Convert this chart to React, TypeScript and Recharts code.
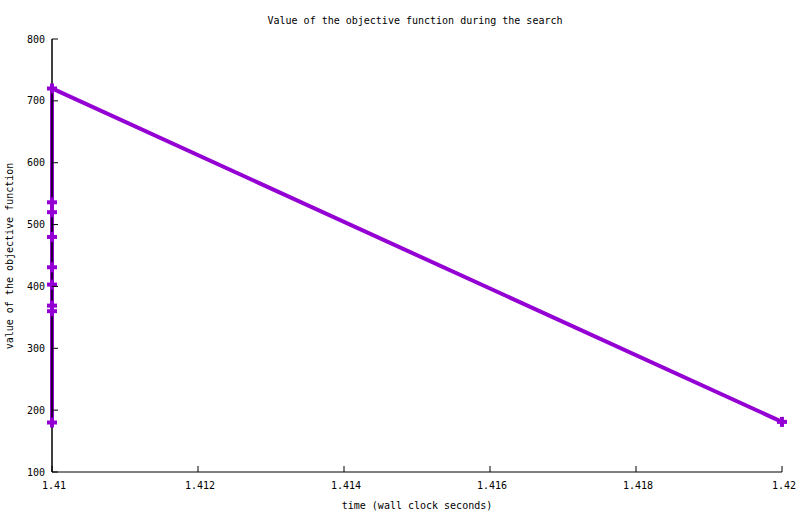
import { LineChart, Line, XAxis, YAxis, ReferenceLine } from "recharts";

// time (wall clock seconds) of each evaluation
const times = [1.41, 1.41, 1.41, 1.41, 1.41, 1.41, 1.41, 1.41, 1.41, 1.42];
// objective value at each evaluation
const objective = [180, 360, 369, 403, 431, 480, 520, 536, 720, 181];

const xTicks = [1.41, 1.412, 1.414, 1.416, 1.418, 1.42];
const yTicks = [100, 200, 300, 400, 500, 600, 700, 800];

const data = times.map((t, i) => ({ time: t, value: objective[i] }));

const FONT = "'DejaVu Sans Mono', monospace";
const PURPLE = "#9400d3";
const TICK = 6;
// plot frame edges (follow from the chart margins and axis sizes below)
const LEFT = 52;
const RIGHT = 782;
const TOP = 39;
const BOTTOM = 472;

const BottomTick = (props: any) => {
    const { x, payload } = props;
    return (
        <g>
            <line x1={x} y1={BOTTOM} x2={x} y2={BOTTOM - TICK} stroke="#000" />
            <text x={x + 2} y={BOTTOM + 17} textAnchor="middle" fontSize={10} fontFamily={FONT} fill="#000">
                {payload.value}
            </text>
        </g>
    );
};

const TopTick = (props: any) => {
    const { x } = props;
    return <line x1={x} y1={TOP} x2={x} y2={TOP + TICK} stroke="#000" />;
};

const LeftTick = (props: any) => {
    const { y, payload } = props;
    return (
        <g>
            <line x1={LEFT} y1={y} x2={LEFT + TICK} y2={y} stroke="#000" />
            <text x={45} y={y + 3.5} textAnchor="end" fontSize={10} fontFamily={FONT} fill="#000">
                {payload.value}
            </text>
        </g>
    );
};

const RightTick = (props: any) => {
    const { y } = props;
    return <line x1={RIGHT} y1={y} x2={RIGHT - TICK} y2={y} stroke="#000" />;
};

const PlusDot = (props: any) => {
    const { cx, cy, index } = props;
    if (cx == null || cy == null) return null;
    return (
        <g key={index}>
            <rect x={cx - 5} y={cy - 2} width={10} height={4} fill={PURPLE} />
            <rect x={cx - 2} y={cy - 5} width={4} height={10} fill={PURPLE} />
        </g>
    );
};

export default function App() {
    return (
        <div style={{ position: "absolute", left: 0, top: 0, background: "#fff" }}>
            <LineChart
                width={800}
                height={514}
                data={data}
                margin={{ top: 39, right: 18, bottom: 0, left: 0 }}
            >
                <XAxis
                    dataKey="time"
                    type="number"
                    domain={[1.41, 1.42]}
                    ticks={xTicks}
                    height={42}
                    tickSize={0}
                    tickMargin={0}
                    tickLine={false}
                    tick={<BottomTick />}
                    axisLine={{ stroke: "#000" }}
                />
                <XAxis
                    xAxisId="top"
                    orientation="top"
                    dataKey="time"
                    type="number"
                    domain={[1.41, 1.42]}
                    ticks={xTicks}
                    height={0}
                    tickSize={0}
                    tickMargin={0}
                    tickLine={false}
                    tick={<TopTick />}
                    axisLine={{ stroke: "#000" }}
                />
                <YAxis
                    type="number"
                    domain={[100, 800]}
                    ticks={yTicks}
                    width={52}
                    tickSize={0}
                    tickMargin={0}
                    tickLine={false}
                    tick={<LeftTick />}
                    axisLine={{ stroke: "#000" }}
                />
                <YAxis
                    yAxisId="right"
                    orientation="right"
                    type="number"
                    domain={[100, 800]}
                    ticks={yTicks}
                    width={0}
                    tickSize={0}
                    tickMargin={0}
                    tickLine={false}
                    tick={<RightTick />}
                    axisLine={{ stroke: "#000" }}
                />
                <Line
                    dataKey="value"
                    stroke={PURPLE}
                    strokeWidth={4}
                    dot={<PlusDot />}
                    activeDot={false}
                    isAnimationActive={false}
                />
                <ReferenceLine x={1.41} stroke="#000" strokeWidth={1} />
                <text x={415} y={24} textAnchor="middle" fontSize={10} fontFamily={FONT} fill="#000">
                    Value of the objective function during the search
                </text>
                <text x={417} y={509} textAnchor="middle" fontSize={10} fontFamily={FONT} fill="#000">
                    time (wall clock seconds)
                </text>
                <text
                    x={13}
                    y={256}
                    textAnchor="middle"
                    fontSize={10}
                    fontFamily={FONT}
                    fill="#000"
                    transform="rotate(-90, 13, 256)"
                >
                    value of the objective function
                </text>
            </LineChart>
        </div>
    );
}
